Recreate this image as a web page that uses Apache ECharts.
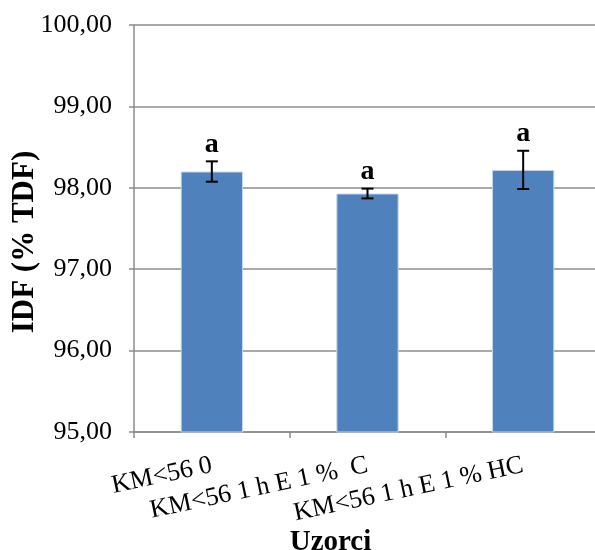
<!DOCTYPE html>
<html>
<head>
<meta charset="utf-8">
<script src="https://cdn.jsdelivr.net/npm/echarts@6/dist/echarts.min.js"></script>
<style>
html,body{margin:0;padding:0;background:#fff;}
#c{width:595px;height:550px;}
</style>
</head>
<body>
<div id="c"></div>
<script>
var categories = ['KM<56 0', 'KM<56 1 h E 1 %  C', 'KM<56 1 h E 1 % HC'];
var values = [98.20, 97.93, 98.22];
var errors = [0.125, 0.06, 0.235];
var letters = ['a', 'a', 'a'];
var yTicks = [95, 96, 97, 98, 99, 100];

var chart = echarts.init(document.getElementById('c'));
var font = '"Liberation Serif", "Times New Roman", serif';
var gray = '#8c8c8c';

var errData = values.map(function (v, i) { return [i, v - errors[i], v + errors[i], letters[i]]; });

chart.setOption({
  animation: false,
  backgroundColor: '#fff',
  grid: { left: 134, right: -6, top: 25, bottom: 118, containLabel: false, outerBoundsMode: 'none' },
  xAxis: {
    type: 'category',
    data: categories,
    axisLine: { lineStyle: { color: gray, width: 1.5 } },
    axisTick: { show: true, length: 6, lineStyle: { color: gray, width: 1.5 } },
    axisLabel: { rotate: 12, margin: 33, color: '#000', fontFamily: font, fontSize: 26, interval: 0 },
    name: 'Uzorci',
    nameLocation: 'middle',
    nameGap: 96,
    nameMoveOverlap: false,
    nameTextStyle: { color: '#000', fontFamily: font, fontSize: 29, fontWeight: 'bold', padding: [0, 74, 0, 0] }
  },
  yAxis: {
    type: 'value',
    min: yTicks[0],
    max: yTicks[yTicks.length - 1],
    interval: 1,
    axisLine: { show: true, lineStyle: { color: gray, width: 1.5 } },
    axisTick: { show: true, length: 5, lineStyle: { color: gray, width: 1.5 } },
    splitLine: { show: true, lineStyle: { color: gray, width: 1.5 } },
    axisLabel: {
      color: '#000', fontFamily: font, fontSize: 26, margin: 22,
      formatter: function (v) { return v.toFixed(2).replace('.', ','); }
    },
    name: 'IDF (% TDF)',
    nameLocation: 'middle',
    nameGap: 94,
    nameMoveOverlap: false,
    nameTextStyle: { color: '#000', fontFamily: font, fontSize: 31, fontWeight: 'bold', padding: [0, 27, 0, 0] }
  },
  series: [
    {
      type: 'bar',
      data: values,
      barWidth: '40%',
      itemStyle: { color: '#4F81BD', borderColor: '#c6d5ea', borderWidth: 1 }
    },
    {
      type: 'custom',
      data: errData,
      z: 10,
      renderItem: function (params, api) {
        var x = api.value(0);
        var lo = api.coord([x, api.value(1)]);
        var hi = api.coord([x, api.value(2)]);
        var hw = 6;
        return {
          type: 'group',
          children: [
            { type: 'line', shape: { x1: hi[0], y1: hi[1], x2: lo[0], y2: lo[1] }, style: { stroke: '#000', lineWidth: 2 } },
            { type: 'line', shape: { x1: hi[0] - hw, y1: hi[1], x2: hi[0] + hw, y2: hi[1] }, style: { stroke: '#000', lineWidth: 2 } },
            { type: 'line', shape: { x1: lo[0] - hw, y1: lo[1], x2: lo[0] + hw, y2: lo[1] }, style: { stroke: '#000', lineWidth: 2 } },
            { type: 'text', x: hi[0], y: hi[1] - 3, style: { text: api.value(3), fill: '#000', font: 'bold 28px ' + font, textAlign: 'center', textVerticalAlign: 'bottom' } }
          ]
        };
      }
    }
  ]
});
</script>
</body>
</html>
